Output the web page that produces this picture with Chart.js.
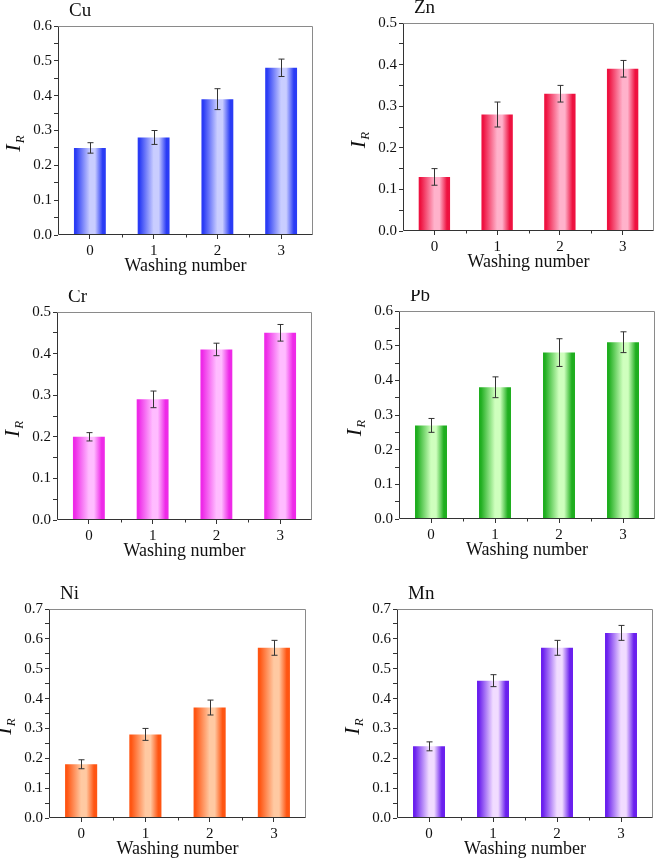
<!DOCTYPE html>
<html>
<head>
<meta charset="utf-8">
<script src="https://cdn.jsdelivr.net/npm/chart.js@4.4.1/dist/chart.umd.min.js"></script>
<style>
  html, body { margin: 0; padding: 0; background: #fff; }
  #fig { position: relative; width: 661px; height: 861px; overflow: hidden; }
  .panel { position: absolute; }
</style>
</head>
<body>
<div id="fig"></div>
<script>
"use strict";

// washing number categories (x axis)
const WASH = ["0", "1", "2", "3"];

// I_R values and error bars
const CU = [0.25, 0.28, 0.39, 0.48];
const CU_ERR = [0.015, 0.02, 0.03, 0.025];
const ZN = [0.13, 0.28, 0.33, 0.39];
const ZN_ERR = [0.02, 0.03, 0.02, 0.02];
const CR = [0.20, 0.29, 0.41, 0.45];
const CR_ERR = [0.01, 0.02, 0.015, 0.02];
const PB = [0.27, 0.38, 0.48, 0.51];
const PB_ERR = [0.02, 0.03, 0.04, 0.03];
const NI = [0.18, 0.28, 0.37, 0.57];
const NI_ERR = [0.015, 0.02, 0.025, 0.025];
const MN = [0.24, 0.46, 0.57, 0.62];
const MN_ERR = [0.015, 0.02, 0.025, 0.025];

// y axis upper limits
const Y_MAX = { Cu: 0.6, Zn: 0.5, Cr: 0.5, Pb: 0.6, Ni: 0.7, Mn: 0.7 };

const SERIF = '"Liberation Serif", "Times New Roman", serif';
const Y_AXIS_W = 40;
const X_AXIS_H = 40;

// cell = canvas box on the page, plot = wanted chart area (page coords)
const PANELS = [
  { name: "Cu", data: CU, err: CU_ERR, dark: "#2a3cf5", light: "#c9cdff",
    cell: [0, 0, 330, 290], plot: [58, 26, 313, 235] },
  { name: "Zn", data: ZN, err: ZN_ERR, dark: "#ee1240", light: "#ffb2cb",
    cell: [330, 0, 331, 290], plot: [403, 23, 654, 231] },
  { name: "Cr", data: CR, err: CR_ERR, dark: "#ee2ae8", light: "#ffbcff",
    cell: [0, 290, 330, 280], plot: [57, 312, 312, 520] },
  { name: "Pb", data: PB, err: PB_ERR, dark: "#1fae1f", light: "#cfffbe",
    cell: [330, 290, 331, 280], plot: [399, 311, 655, 519] },
  { name: "Ni", data: NI, err: NI_ERR, dark: "#ff5512", light: "#ffc9a2",
    cell: [0, 570, 330, 291], plot: [49, 609, 306, 818] },
  { name: "Mn", data: MN, err: MN_ERR, dark: "#6a20ee", light: "#f1dcff",
    cell: [330, 570, 331, 291], plot: [397, 609, 653, 818] },
];

function barFill(dark, light) {
  return (ctx) => {
    const chart = ctx.chart;
    const area = chart.chartArea;
    if (!area || ctx.type !== "data") return dark;
    const x = chart.scales.x.getPixelForValue(ctx.dataIndex);
    const w = (area.right - area.left) / chart.data.labels.length * 0.5;
    const g = chart.ctx.createLinearGradient(x - w / 2, 0, x + w / 2, 0);
    g.addColorStop(0, dark);
    g.addColorStop(0.06, dark);
    g.addColorStop(0.5, light);
    g.addColorStop(0.66, light);
    g.addColorStop(0.9, dark);
    g.addColorStop(1, dark);
    return g;
  };
}

// error bars, frame, minor x ticks, panel name and axis labels
const decor = {
  id: "decor",
  afterDatasetsDraw(chart, args, opts) {
    const { ctx, chartArea: a, scales } = chart;
    const xs = scales.x, ys = scales.y;
    ctx.save();

    // error bars
    ctx.strokeStyle = "#333";
    ctx.lineWidth = 1;
    chart.data.datasets[0].data.forEach((v, i) => {
      const e = opts.err[i];
      const x = Math.round(xs.getPixelForValue(i)) + 0.5;
      const y1 = ys.getPixelForValue(v + e);
      const y2 = ys.getPixelForValue(v - e);
      ctx.beginPath();
      ctx.moveTo(x, y1); ctx.lineTo(x, y2);
      ctx.moveTo(x - 3, y1); ctx.lineTo(x + 3, y1);
      ctx.moveTo(x - 3, y2); ctx.lineTo(x + 3, y2);
      ctx.stroke();
    });

    // frame
    const L = Math.round(a.left) + 0.5, R = Math.round(a.right) - 0.5;
    const T = Math.round(a.top) + 0.5, B = Math.round(a.bottom) - 0.5;
    ctx.strokeStyle = "#8a8a8a";
    ctx.beginPath();
    ctx.moveTo(L, T); ctx.lineTo(R, T); ctx.lineTo(R, B);
    ctx.stroke();
    ctx.strokeStyle = "#333";
    ctx.beginPath();
    ctx.moveTo(L, T); ctx.lineTo(L, B); ctx.lineTo(R, B);
    ctx.stroke();

    // minor ticks between categories
    const n = chart.data.labels.length;
    const step = (a.right - a.left) / n;
    ctx.beginPath();
    for (let i = 1; i < n; i++) {
      const x = Math.round(a.left + i * step) + 0.5;
      ctx.moveTo(x, B); ctx.lineTo(x, B + 3);
    }
    ctx.stroke();

    ctx.fillStyle = "#111";
    // panel name
    ctx.font = `19px ${SERIF}`;
    ctx.textAlign = "left";
    ctx.textBaseline = "middle";
    ctx.fillText(opts.name, a.left + 11, a.top - 15);

    // x label
    ctx.font = `18px ${SERIF}`;
    ctx.textAlign = "center";
    ctx.fillText("Washing number", (a.left + a.right) / 2, a.bottom + 31);

    // y label: italic I with subscript R
    const mid = (a.top + a.bottom) / 2 + 13;
    ctx.translate(a.left - 38, mid);
    ctx.rotate(-Math.PI / 2);
    ctx.textAlign = "left";
    ctx.textBaseline = "alphabetic";
    ctx.font = `italic 22px ${SERIF}`;
    const w1 = ctx.measureText("I").width;
    ctx.font = `italic 13px ${SERIF}`;
    const w2 = ctx.measureText("R").width;
    const x0 = -(w1 + w2 + 1) / 2;
    ctx.font = `italic 22px ${SERIF}`;
    ctx.fillText("I", x0, 0);
    ctx.font = `italic 13px ${SERIF}`;
    ctx.fillText("R", x0 + w1 + 1, 4);

    ctx.restore();
  },
};

function makePanel(p) {
  const [cx, cy, cw, ch] = p.cell;
  const [pl, pt, pr, pb] = p.plot;
  const div = document.createElement("div");
  div.className = "panel";
  div.style.left = cx + "px";
  div.style.top = cy + "px";
  div.style.width = cw + "px";
  div.style.height = ch + "px";
  const canvas = document.createElement("canvas");
  div.appendChild(canvas);
  document.getElementById("fig").appendChild(div);

  const padding = {
    left: pl - cx - Y_AXIS_W,
    top: pt - cy,
    right: cx + cw - pr,
    bottom: cy + ch - pb - X_AXIS_H,
  };

  return new Chart(canvas, {
    type: "bar",
    data: {
      labels: WASH,
      datasets: [{
        data: p.data,
        backgroundColor: barFill(p.dark, p.light),
        borderWidth: 0,
        barPercentage: 0.5,
        categoryPercentage: 1,
      }],
    },
    options: {
      responsive: true,
      maintainAspectRatio: false,
      animation: false,
      events: [],
      layout: { padding, autoPadding: false },
      plugins: {
        legend: { display: false },
        tooltip: { enabled: false },
        decor: { name: p.name, err: p.err },
      },
      scales: {
        x: {
          offset: true,
          grid: { offset: false, drawOnChartArea: false, tickLength: 4, color: "#333" },
          border: { display: false },
          ticks: { color: "#111", font: { family: SERIF, size: 15 }, padding: 3, maxRotation: 0 },
          afterFit: (s) => { s.height = X_AXIS_H; },
        },
        y: {
          min: 0,
          max: Y_MAX[p.name],
          grid: { drawOnChartArea: false, tickLength: 4, color: "#333" },
          border: { display: false },
          ticks: {
            stepSize: 0.05,
            autoSkip: false,
            color: "#111",
            font: { family: SERIF, size: 15 },
            padding: 2,
            callback: (v) => (Math.round(v * 100) % 10 === 0 ? Number(v).toFixed(1) : ""),
          },
          afterFit: (s) => { s.width = Y_AXIS_W; },
        },
      },
    },
    plugins: [decor],
  });
}

PANELS.forEach(makePanel);
</script>
</body>
</html>
